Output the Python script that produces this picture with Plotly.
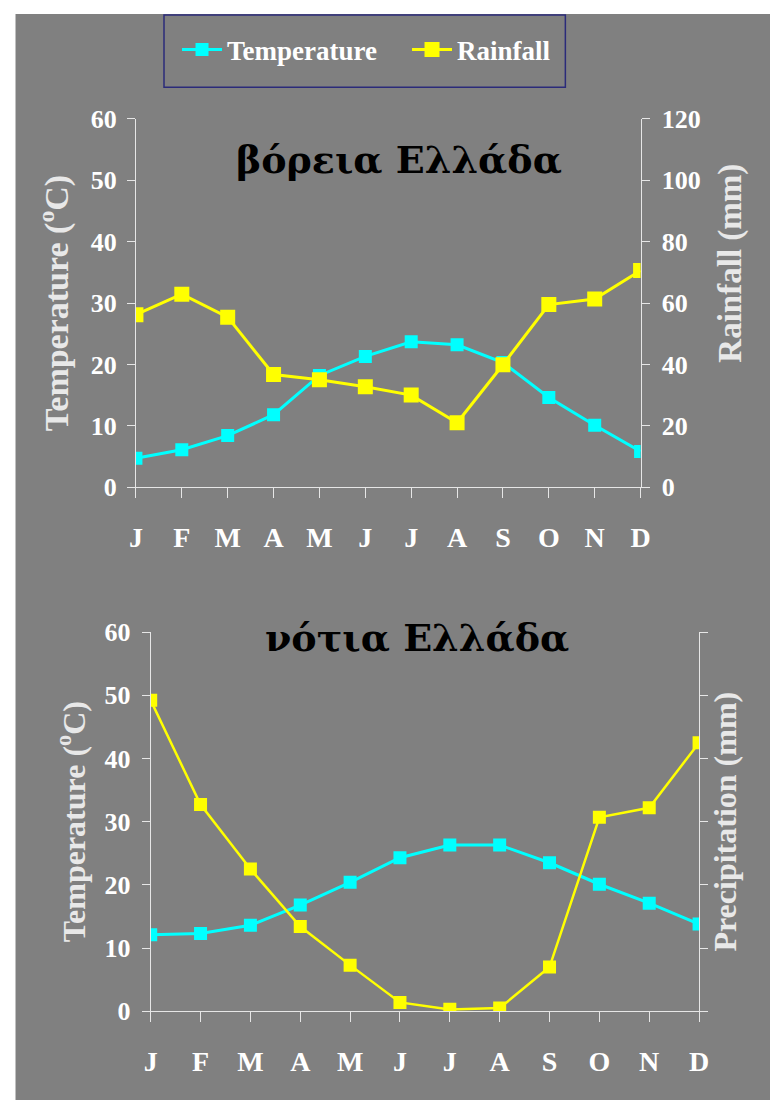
import plotly.graph_objects as go

# Month initials for the category axis
months = ["J", "F", "M", "A", "M", "J", "J", "A", "S", "O", "N", "D"]
month_pos = list(range(12))

# Northern Greece (βόρεια Ελλάδα)
north_temp = [4.7, 6.1, 8.4, 11.8, 18.2, 21.3, 23.7, 23.2, 20.3, 14.6, 10.1, 5.8]
north_rain = [56.2, 62.9, 55.4, 36.7, 35.0, 32.7, 30.0, 21.0, 39.9, 59.5, 61.3, 70.6]

# Southern Greece (νότια Ελλάδα)
south_temp = [12.1, 12.3, 13.6, 16.8, 20.4, 24.3, 26.3, 26.3, 23.5, 20.1, 17.1, 13.8]
south_rain = [49.2, 32.7, 22.5, 13.4, 7.3, 1.4, 0.3, 0.5, 7.0, 30.7, 32.2, 42.5]

temp_ticks = [0, 10, 20, 30, 40, 50, 60]
rain_ticks = [0, 20, 40, 60, 80, 100, 120]

W, H = 780, 1115
GRAY = "#808080"
AXIS = "#e6e6e6"
TITLE_GRAY = "#e8e8e8"
CYAN = "#00ffff"
YELLOW = "#ffff00"
SERIF = "Liberation Serif, Times New Roman, serif"


def px_x(v):
    return v / W


def px_y(v):
    return (H - v) / H


def serif(size, color="white"):
    return dict(family=SERIF, size=size, color=color, weight="bold")


tick_font = serif(26)
month_font = serif(28)

fig = go.Figure()

# --- traces -------------------------------------------------------------
fig.add_trace(go.Scatter(
    x=month_pos, y=north_temp, name="Temperature", xaxis="x", yaxis="y",
    mode="lines+markers", line=dict(color=CYAN, width=3),
    marker=dict(symbol="square", size=13, color=CYAN)))
fig.add_trace(go.Scatter(
    x=month_pos, y=north_rain, name="Rainfall", xaxis="x", yaxis="y2",
    mode="lines+markers", line=dict(color=YELLOW, width=3),
    marker=dict(symbol="square", size=15, color=YELLOW)))
fig.add_trace(go.Scatter(
    x=month_pos, y=south_temp, name="Temperature", xaxis="x2", yaxis="y5",
    mode="lines+markers", line=dict(color=CYAN, width=3), showlegend=False,
    marker=dict(symbol="square", size=13, color=CYAN)))
fig.add_trace(go.Scatter(
    x=month_pos, y=south_rain, name="Precipitation", xaxis="x2", yaxis="y6",
    mode="lines+markers", line=dict(color=YELLOW, width=2.5), showlegend=False,
    marker=dict(symbol="square", size=13, color=YELLOW)))

# --- axis helpers ---------------------------------------------------------
def x_axis(domain, anchor, inside=False, overlay=None):
    ax = dict(domain=domain, anchor=anchor, range=[0, 11],
              tickvals=month_pos, ticktext=months,
              showgrid=False, zeroline=False, ticklen=10, tickwidth=1,
              tickcolor=AXIS)
    if inside:
        ax.update(overlaying=overlay, ticks="inside", showline=False,
                  showticklabels=False)
    else:
        ax.update(ticks="outside", showline=True, linecolor=AXIS,
                  linewidth=1, tickfont=month_font, ticklabelstandoff=15)
    return ax


def y_axis(domain, anchor, side, rng, vals, labels=True, inside=False,
           overlay=None, title=None, title_size=32, standoff=8,
           label_gap=7):
    ax = dict(domain=domain, anchor=anchor, side=side, range=rng,
              tickvals=vals, showgrid=False, zeroline=False, ticklen=8,
              tickwidth=1, tickcolor=AXIS)
    if overlay:
        ax["overlaying"] = overlay
    if inside:
        ax.update(ticks="inside", showline=False, showticklabels=False)
    else:
        ax.update(ticks="outside", showline=True, linecolor=AXIS, linewidth=1,
                  showticklabels=labels, tickfont=tick_font,
                  ticklabelstandoff=label_gap)
        if title:
            ax["title"] = dict(text=title, font=serif(title_size, TITLE_GRAY),
                               standoff=standoff)
    return ax


top_x = [px_x(131.8), px_x(647.7)]
top_y = [px_y(485.8), px_y(107.7)]
bot_x = [px_x(146.9), px_x(707.5)]
bot_y = [px_y(1023.9), px_y(634.6)]

temp_title = "Temperature (<sup>o</sup>C)"
heading_font = dict(family="DejaVu Serif, serif", size=38, color="black",
                    weight="bold")

fig.update_layout(
    width=W, height=H,
    margin=dict(l=0, r=0, t=0, b=0),
    paper_bgcolor="white",
    plot_bgcolor="rgba(0,0,0,0)",
    showlegend=True,
    # top panel
    xaxis=x_axis(top_x, "y"),
    yaxis=y_axis(top_y, "x", "left", [0, 60], temp_ticks, title=temp_title,
                 title_size=34, standoff=11, label_gap=5),
    yaxis2=y_axis(top_y, "x", "right", [0, 120], rain_ticks, overlay="y"),
    xaxis3=x_axis(top_x, "y", inside=True, overlay="x"),
    yaxis3=y_axis(top_y, "x", "left", [0, 60], temp_ticks, inside=True,
                  overlay="y"),
    yaxis4=y_axis(top_y, "x", "right", [0, 120], rain_ticks, inside=True,
                  overlay="y"),
    # bottom panel
    xaxis2=x_axis(bot_x, "y5"),
    yaxis5=y_axis(bot_y, "x2", "left", [0, 60], temp_ticks, title=temp_title,
                  title_size=32, standoff=9, label_gap=6),
    yaxis6=y_axis(bot_y, "x2", "right", [0, 60], temp_ticks, labels=False,
                  overlay="y5", title="Precipitation (mm)", title_size=32,
                  standoff=6),
    xaxis4=x_axis(bot_x, "y5", inside=True, overlay="x2"),
    yaxis7=y_axis(bot_y, "x2", "left", [0, 60], temp_ticks, inside=True,
                  overlay="y5"),
    yaxis8=y_axis(bot_y, "x2", "right", [0, 60], temp_ticks, inside=True,
                  overlay="y5"),
    legend=dict(
        orientation="h", x=px_x(173.8), y=px_y(36.9), xanchor="left",
        yanchor="middle", bgcolor="rgba(0,0,0,0)", borderwidth=0,
        font=serif(27), itemwidth=40, entrywidth=175, itemclick=False,
    ),
    shapes=[
        # grey panel behind both charts
        dict(type="rect", xref="paper", yref="paper", layer="below",
             x0=px_x(8.7), x1=1, y0=0, y1=1,
             fillcolor=GRAY, line=dict(width=0)),
        # legend frame
        dict(type="rect", xref="paper", yref="paper", layer="above",
             x0=px_x(160.5), x1=px_x(570.8), y0=px_y(75.2), y1=px_y(1),
             fillcolor="rgba(0,0,0,0)", line=dict(color="#2b2b7a", width=1.5)),
    ],
    annotations=[
        dict(text="βόρεια Ελλάδα", xref="paper", yref="paper",
             x=px_x(400.5), y=px_y(149.7), xanchor="center", yanchor="middle",
             showarrow=False, font=heading_font),
        dict(text="νότια Ελλάδα", xref="paper", yref="paper",
             x=px_x(419.5), y=px_y(640), xanchor="center", yanchor="middle",
             showarrow=False, font=heading_font),
        # rainfall axis title sits a little above the axis midpoint
        dict(text="Rainfall (mm)", xref="paper", yref="paper",
             x=px_x(740), y=px_y(255.4), xanchor="center", yanchor="middle",
             textangle=-90, showarrow=False, font=serif(33, TITLE_GRAY)),
    ],
)

fig.write_html("out.html")
